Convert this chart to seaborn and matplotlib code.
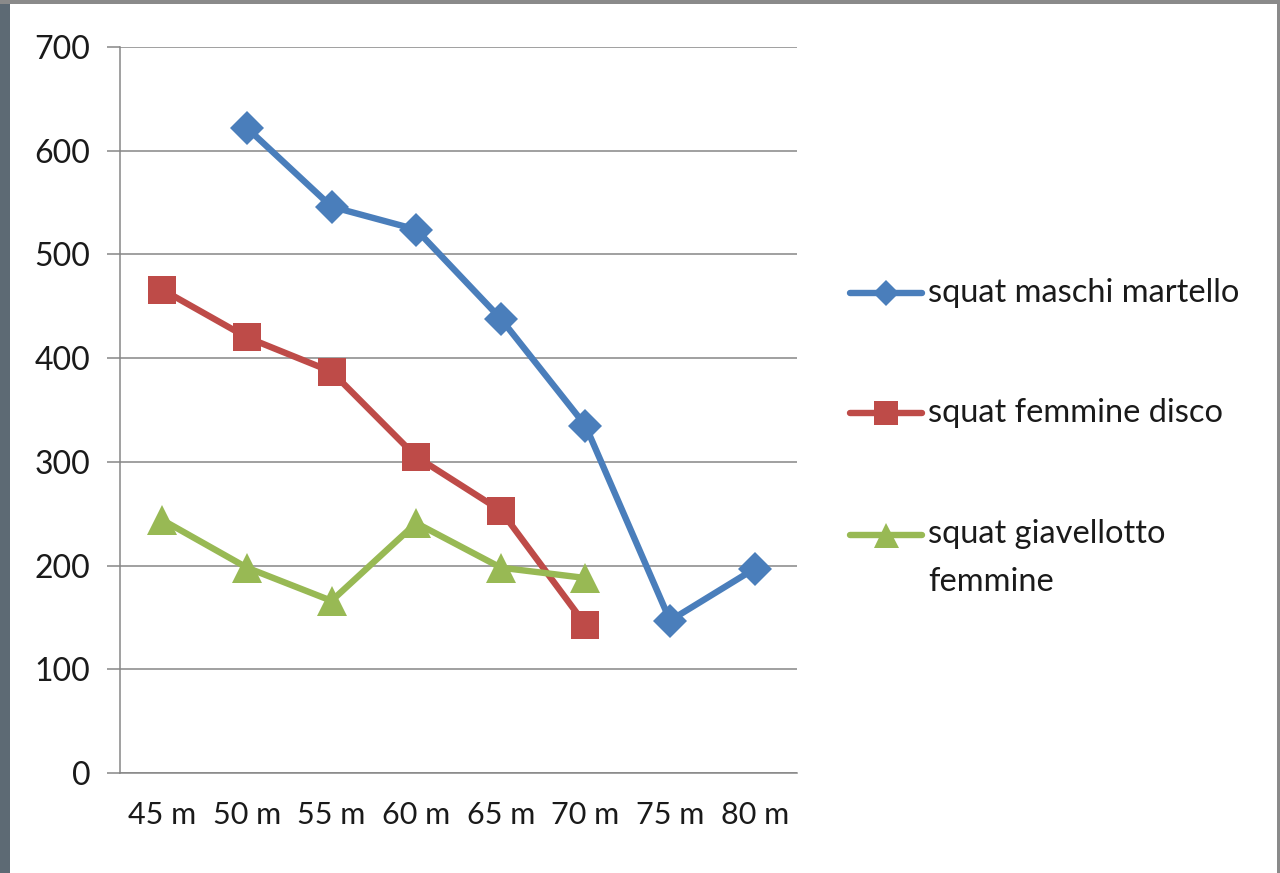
import numpy as np
import pandas as pd
import seaborn as sns
import matplotlib
matplotlib.use("Agg")
import matplotlib.pyplot as plt
from matplotlib.lines import Line2D
from matplotlib.patches import Rectangle

# Categories (throw distance) and squat values per group
distances = ["45 m", "50 m", "55 m", "60 m", "65 m", "70 m", "75 m", "80 m"]
maschi_martello = [np.nan, 622, 546, 524, 438, 335, 147, 197]
femmine_disco = [466, 420, 387, 305, 253, 143, np.nan, np.nan]
giavellotto_femmine = [244, 198, 166, 241, 198, 188, np.nan, np.nan]

series_names = ["squat maschi martello", "squat femmine disco", "squat giavellotto femmine"]
legend_labels = ["squat maschi martello", "squat femmine disco", "squat giavellotto\nfemmine"]
colors = ["#4a7ebb", "#be4b48", "#98b954"]
markers = ["D", "s", "^"]
marker_sizes = [17, 20.5, 22]
y_ticks = [0, 100, 200, 300, 400, 500, 600, 700]

sns.set_theme(style="white")
plt.rcParams["font.family"] = ["Lato", "DejaVu Sans"]

rows = []
for name, vals in zip(series_names, [maschi_martello, femmine_disco, giavellotto_femmine]):
    for i, v in enumerate(vals):
        rows.append({"serie": name, "pos": i, "valore": v})
df = pd.DataFrame(rows).dropna()

W, H = 1280, 873
fig = plt.figure(figsize=(W / 100, H / 100), dpi=100)
fig.patch.set_facecolor("white")

# window frame around the chart
fig.add_artist(Rectangle((0, 0), 10 / W, 1, transform=fig.transFigure,
                         facecolor="#5d6a74", edgecolor="none", zorder=0))
fig.add_artist(Rectangle((0, 1 - 4 / H), 1, 4 / H, transform=fig.transFigure,
                         facecolor="#8a8a8a", edgecolor="none", zorder=0))
fig.add_artist(Rectangle((1 - 3 / W, 0), 3 / W, 1, transform=fig.transFigure,
                         facecolor="#8a8a8a", edgecolor="none", zorder=0))

ax = fig.add_axes([120 / W, (H - 773) / H, (797 - 120) / W, (773 - 47) / H])
ax.set_facecolor("white")

for name, col, mk, ms in zip(series_names, colors, markers, marker_sizes):
    sub = df[df["serie"] == name]
    sns.lineplot(data=sub, x="pos", y="valore", ax=ax, color=col, linewidth=4.6,
                 marker=mk, markersize=ms, markeredgewidth=0, legend=False,
                 zorder=3, clip_on=False)

ax.set_xlim(-0.5, len(distances) - 0.5)
ax.set_ylim(0, 700)
ax.set_yticks(y_ticks)
ax.set_yticklabels([str(t) for t in y_ticks])
ax.set_xticks(range(len(distances)))
ax.set_xticklabels(distances)
ax.set_xticks(np.arange(-0.5, len(distances)), minor=True)
ax.set_xlabel("")
ax.set_ylabel("")

ax.yaxis.grid(True, color="#868686", linewidth=1.1)
ax.xaxis.grid(False)
ax.set_axisbelow(True)
for side in ["top", "right"]:
    ax.spines[side].set_visible(False)
for side in ["left", "bottom"]:
    ax.spines[side].set_visible(True)
    ax.spines[side].set_color("#868686")
    ax.spines[side].set_linewidth(1.1)

ax.tick_params(axis="x", which="major", length=0, pad=20, labelsize=22, labelcolor="#1a1a1a")
ax.tick_params(axis="x", which="minor", length=10.5, width=1.1, color="#868686", direction="out")
ax.tick_params(axis="y", which="major", length=9.5, width=1.1, color="#868686",
               direction="out", pad=12, labelsize=23, labelcolor="#1a1a1a", left=True)

# legend drawn at the right of the plot
legend_y = [293, 413, 535]
legend_ms = {"D": 13, "s": 17, "^": 18}
for lab, col, mk, ly in zip(legend_labels, colors, markers, legend_y):
    yf = 1 - ly / H
    fig.add_artist(Line2D([850 / W, 922 / W], [yf, yf], transform=fig.transFigure,
                          color=col, linewidth=4.6, solid_capstyle="round"))
    fig.add_artist(Line2D([886 / W], [yf], transform=fig.transFigure, color=col,
                          marker=mk, markersize=legend_ms[mk],
                          markeredgewidth=0, linestyle="none"))
    if "\n" in lab:
        fig.text(928 / W, 1 - (535 - 16) / H, lab, transform=fig.transFigure,
                 fontsize=23.5, color="#1a1a1a", va="top", ha="left", linespacing=1.75)
    else:
        fig.text(928 / W, yf, lab, transform=fig.transFigure, fontsize=23.5,
                 color="#1a1a1a", va="center", ha="left")

fig.savefig("out.png", dpi=100)
